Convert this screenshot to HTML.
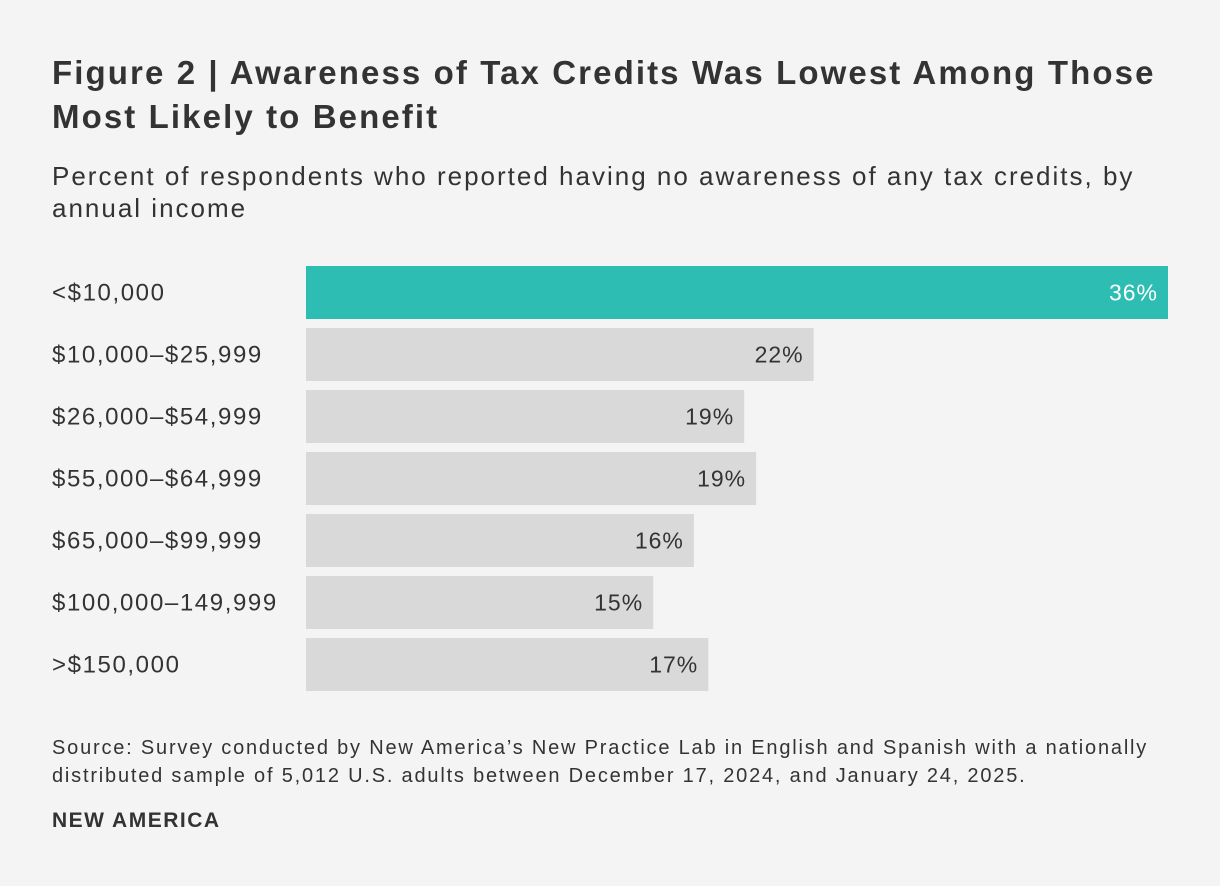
<!DOCTYPE html>
<html><head><meta charset="utf-8">
<style>
body{margin:0;background:#f4f4f4;font-family:"Liberation Sans",sans-serif;color:#333;}
#wrap{position:relative;width:1220px;height:886px;overflow:hidden;background:#f4f4f4;}
h1{position:absolute;left:52px;top:51px;margin:0;font-size:33px;letter-spacing:2.1px;line-height:44px;font-weight:bold;color:#333;width:1150px;}
.sub{position:absolute;left:52px;top:160px;font-size:26px;letter-spacing:2px;line-height:32px;color:#333;width:1145px;}
.src{position:absolute;left:52px;top:734px;font-size:20px;letter-spacing:1.8px;line-height:28px;color:#333;white-space:nowrap;}
.brand{position:absolute;left:52px;top:809px;font-size:21px;letter-spacing:1.5px;font-weight:bold;color:#333;}
</style></head><body>
<div id="wrap">
<h1>Figure 2 | Awareness of Tax Credits Was Lowest Among Those Most Likely to Benefit</h1>
<div class="sub">Percent of respondents who reported having no awareness of any tax credits, by annual income</div>
<svg id="plot" width="1220" height="886" style="position:absolute;left:0;top:0"></svg>
<div class="src">Source: Survey conducted by New America’s New Practice Lab in English and Spanish with a nationally<br>distributed sample of 5,012 U.S. adults between December 17, 2024, and January 24, 2025.</div>
<div class="brand">NEW AMERICA</div>
</div>
<script>
const categories=["<$10,000","$10,000–$25,999","$26,000–$54,999","$55,000–$64,999","$65,000–$99,999","$100,000–149,999",">$150,000"];
const values=[36,21.2,18.3,18.8,16.2,14.5,16.8];
const valueLabels=["36%","22%","19%","19%","16%","15%","17%"];
const svg=document.getElementById('plot');
const NS="http://www.w3.org/2000/svg";
const x0=306,xMax=1168,maxV=36;
const xs=v=>x0+(v/maxV)*(xMax-x0);
const y0=266,step=62,bh=53;
const ys=i=>y0+i*step;
categories.forEach((c,i)=>{
  const r=document.createElementNS(NS,'rect');
  r.setAttribute('x',x0);r.setAttribute('y',ys(i));
  r.setAttribute('width',xs(values[i])-x0);r.setAttribute('height',bh);
  r.setAttribute('fill',i===0?'#2ebdb3':'#d9d9d9');
  
  
  svg.appendChild(r);
  const t=document.createElementNS(NS,'text');
  t.setAttribute('x',52);t.setAttribute('y',ys(i)+bh/2+8);
  t.setAttribute('font-size','24');t.setAttribute('fill','#333');
  t.setAttribute('letter-spacing','1.6');
  t.setAttribute('font-family','Liberation Sans, sans-serif');
  t.textContent=c;
  
  
  svg.appendChild(t);
  const v=document.createElementNS(NS,'text');
  v.setAttribute('x',xs(values[i])-10);v.setAttribute('y',ys(i)+bh/2+8);
  v.setAttribute('text-anchor','end');
  v.setAttribute('font-size','23');v.setAttribute('fill',i===0?'#fff':'#333');
  v.setAttribute('letter-spacing','1');
  v.setAttribute('font-family','Liberation Sans, sans-serif');
  v.textContent=valueLabels[i];
  
  
  svg.appendChild(v);
});
</script>
</body></html>
